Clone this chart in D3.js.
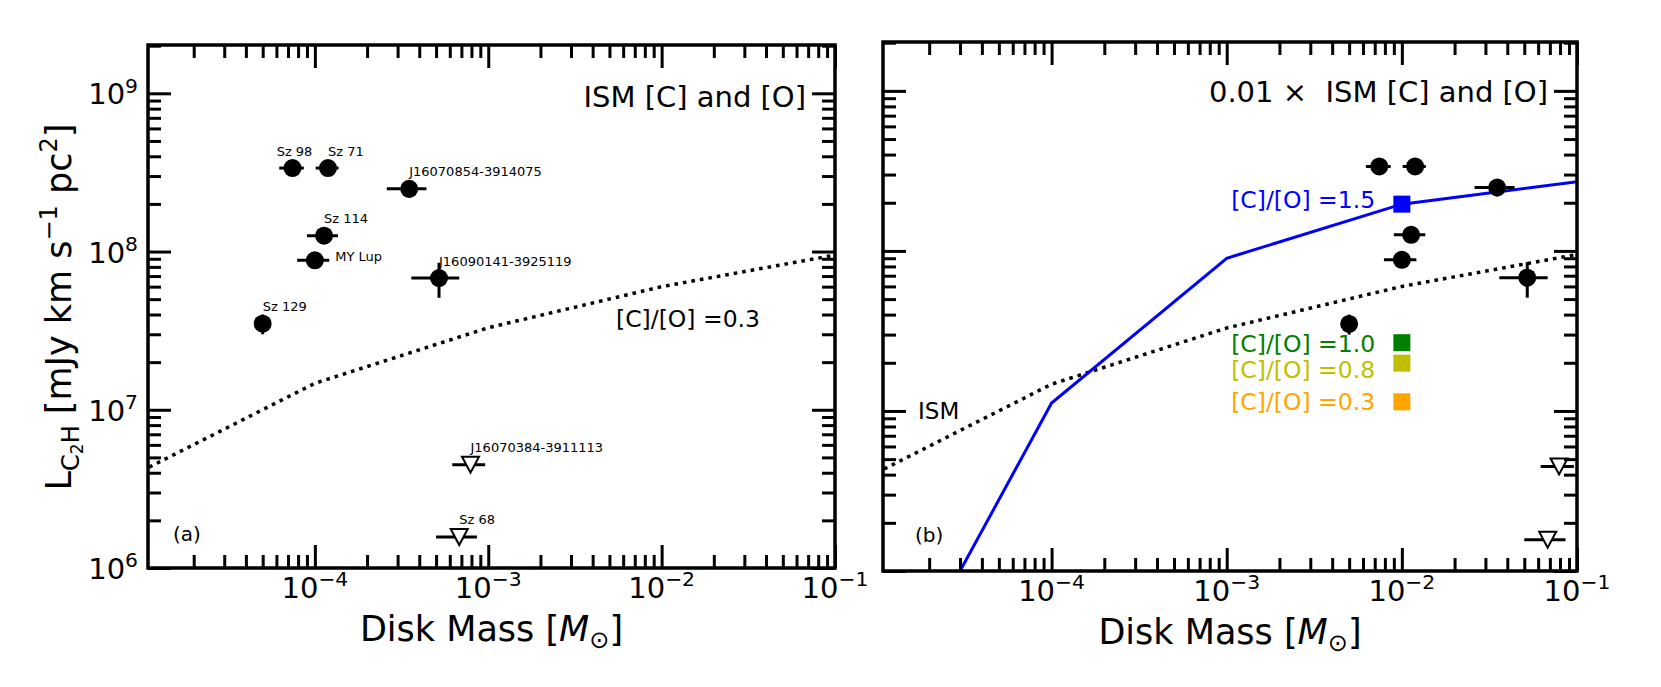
<!DOCTYPE html>
<html>
<head>
<meta charset="utf-8">
<script src="https://cdn.jsdelivr.net/npm/d3@7"></script>
<style>
  body { margin: 0; background: #fff; }
  text { font-family: "DejaVu Sans", sans-serif; fill: #000; }
</style>
</head>
<body>
<div class="canvas"></div>
<script>
// detected sources, panel (a) masses; panel (b) uses 100x these (0.01 x ISM abundances)
const sourceNames = ['Sz 98', 'Sz 71', 'J16070854-3914075', 'Sz 114', 'MY Lup', 'J16090141-3925119', 'Sz 129'];
const diskMass = [7.43e-5, 1.19e-4, 3.5e-4, 1.13e-4, 1.0e-4, 5.2e-4, 5.0e-5];
const diskMassErr = [1.2e-5, 1.8e-5, 0.9e-4, 2.3e-5, 2.1e-5, 1.6e-4, 0.4e-5];
const lumC2H = [3.37e8, 3.37e8, 2.49e8, 1.26e8, 8.8e7, 6.8e7, 3.5e7];
const lumC2HErr = [1.5e7, 1.5e7, 3.0e7, 1.0e7, 7e6, 1.7e7, 5e6];

// upper limits
const limitNames = ['J16070384-3911113', 'Sz 68'];
const limitMass = [7.9e-4, 6.8e-4];
const limitMassErr = [1.7e-4, 1.8e-4];
const limitLum = [4.5e6, 1.57e6];

// model curves
const modelMass = [1e-5, 1e-4, 1e-3, 1e-2, 1e-1];
const ismLum = [4.1e6, 1.47e7, 3.3e7, 6.0e7, 9.5e7];          // ISM [C],[O], C/O = 0.3
const depletedLum = [1.1e5, 1.12e7, 9.0e7, 1.96e8, 2.71e8];   // 0.01 x ISM, C/O = 1.5

// C/O markers at M = 0.01 in panel (b)
const ratioLabels = ['[C]/[O] =1.5', '[C]/[O] =1.0', '[C]/[O] =0.8', '[C]/[O] =0.3'];
const ratioColors = ['#0000ff', '#008000', '#bfbf00', '#ffa500'];
const ratioLum = [1.96e8, 2.67e7, 1.99e7, 1.14e7];
const ratioTextLum = [1.85e8, 2.35e7, 1.6e7, 1.01e7];
const ratioMass = 1e-2;

const xMajor = [1e-4, 1e-3, 1e-2, 1e-1];
const yMajor = [1e6, 1e7, 1e8, 1e9];
const xDomain = [1.09e-5, 0.1];
const yDomain = [1e6, 2.02e9];
const gasToDust = 100;

const svg = d3.select('.canvas')
    .append('svg')
    .attr('width', 1661)
    .attr('height', 687);

svg.append('rect').attr('width', 1661).attr('height', 687).attr('fill', '#fff');

const minorTicks = domain => {
    const out = [];
    const lo = Math.floor(Math.log10(domain[0])), hi = Math.ceil(Math.log10(domain[1]));
    for (let e = lo; e <= hi; e++) {
        for (let m = 2; m <= 9; m++) {
            const v = m * Math.pow(10, e);
            if (v > domain[0] && v < domain[1] * 0.995) out.push(v);
        }
    }
    return out;
};

const powLabel = (sel, exp, size) => {
    sel.append('tspan').text('10');
    sel.append('tspan')
        .attr('font-size', size * 0.7)
        .attr('dy', -size * 0.4)
        .text(exp < 0 ? '\u2212' + (-exp) : exp);
};

const drawPanel = (box, opts) => {
    const w = box.x1 - box.x0, h = box.y1 - box.y0;
    const g = svg.append('g').attr('transform', `translate(${box.x0}, ${box.y0})`);

    const x = d3.scaleLog().domain(xDomain).range([0, w]);
    const y = d3.scaleLog().domain(yDomain).range([h, 0]);

    const clipId = 'clip-' + opts.tag;
    g.append('clipPath').attr('id', clipId)
        .append('rect').attr('width', w).attr('height', h);
    const plot = g.append('g').attr('clip-path', `url(#${clipId})`);

    // ticks on all four sides, pointing inward
    const sides = [
        [d3.axisBottom, `translate(0, ${h})`, x, xMajor],
        [d3.axisTop, 'translate(0, 0)', x, xMajor],
        [d3.axisLeft, 'translate(0, 0)', y, yMajor],
        [d3.axisRight, `translate(${w}, 0)`, y, yMajor]
    ];
    sides.forEach(([make, tr, scale, major]) => {
        [[major, 23], [minorTicks(scale.domain()), 13]].forEach(([vals, len]) => {
            g.append('g')
                .attr('transform', tr)
                .attr('color', '#000')
                .call(make(scale).tickValues(vals).tickSize(-len).tickFormat(''))
                .call(a => a.select('.domain').remove())
                .selectAll('line').attr('stroke-width', 3);
        });
    });

    // x tick labels
    xMajor.forEach(v => {
        g.append('text')
            .attr('x', x(v))
            .attr('y', h + 30)
            .attr('text-anchor', 'middle')
            .attr('font-size', 29)
            .call(t => powLabel(t, Math.round(Math.log10(v)), 29));
    });

    if (opts.yLabels) {
        yMajor.forEach(v => {
            g.append('text')
                .attr('x', -10)
                .attr('y', y(v) + 11)
                .attr('text-anchor', 'end')
                .attr('font-size', 29)
                .call(t => powLabel(t, Math.round(Math.log10(v)), 29));
        });
    }

    // x axis title
    const xt = g.append('text')
        .attr('x', w / 2)
        .attr('y', h + 73)
        .attr('text-anchor', 'middle')
        .attr('font-size', 35);
    xt.append('tspan').text('Disk Mass [');
    xt.append('tspan').attr('font-style', 'italic').text('M');
    xt.append('tspan').attr('font-size', 24).attr('dy', 7).text('\u2299');
    xt.append('tspan').attr('dy', -7).text(']');

    // ISM model (dotted)
    const line = d3.line().x(d => x(d[0])).y(d => y(d[1]));
    plot.append('path')
        .datum(modelMass.map((m, i) => [m, ismLum[i]]))
        .attr('fill', 'none')
        .attr('stroke', '#000')
        .attr('stroke-width', 3.5)
        .attr('stroke-dasharray', '3.6,5')
        .attr('d', line);

    if (opts.depleted) {
        plot.append('path')
            .datum(modelMass.map((m, i) => [m, depletedLum[i]]))
            .attr('fill', 'none')
            .attr('stroke', '#0000ff')
            .attr('stroke-width', 3)
            .attr('d', line);
    }

    const f = opts.massFactor;
    const pts = sourceNames.map((name, i) => ({
        name, m: diskMass[i] * f, me: diskMassErr[i] * f, L: lumC2H[i], Le: lumC2HErr[i]
    }));
    const lims = limitNames.map((name, i) => ({
        name, m: limitMass[i] * f, me: limitMassErr[i] * f, L: limitLum[i]
    }));

    // error bars
    const bars = plot.append('g').attr('stroke', '#000').attr('stroke-width', 3);
    pts.concat(lims).forEach(d => {
        bars.append('line')
            .attr('x1', x(d.m - d.me)).attr('x2', x(d.m + d.me))
            .attr('y1', y(d.L)).attr('y2', y(d.L));
    });
    pts.forEach(d => {
        bars.append('line')
            .attr('x1', x(d.m)).attr('x2', x(d.m))
            .attr('y1', y(d.L - d.Le)).attr('y2', y(d.L + d.Le));
    });

    plot.selectAll('.src')
        .data(pts)
        .enter()
        .append('circle')
        .attr('class', 'src')
        .attr('cx', d => x(d.m))
        .attr('cy', d => y(d.L))
        .attr('r', 9)
        .attr('fill', '#000');

    plot.selectAll('.lim')
        .data(lims)
        .enter()
        .append('path')
        .attr('class', 'lim')
        .attr('transform', d => `translate(${x(d.m)}, ${y(d.L)})`)
        .attr('d', 'M-8.5,-8L8.5,-8L0,8Z')
        .attr('fill', '#fff')
        .attr('stroke', '#000')
        .attr('stroke-width', 2);

    // frame
    g.append('rect')
        .attr('width', w)
        .attr('height', h)
        .attr('fill', 'none')
        .attr('stroke', '#000')
        .attr('stroke-width', 3.5);

    return {g, x, y, w, h, pts, lims};
};

// panel (a)
const a = drawPanel({x0: 148, x1: 835, y0: 45, y1: 568}, {tag: 'a', yLabels: true, massFactor: 1});

const labelShift = {'Sz 98': [0.81, 1.2], 'MY Lup': [1.31, 0.985]};
a.pts.concat(a.lims).forEach(d => {
    const s = labelShift[d.name] || [1, 1.2];
    a.g.append('text')
        .attr('x', a.x(d.m * s[0]))
        .attr('y', a.y(d.L * s[1]))
        .attr('font-size', 13)
        .text(d.name);
});

a.g.append('text')
    .attr('x', a.w - 29).attr('y', 62)
    .attr('text-anchor', 'end')
    .attr('font-size', 29)
    .text('ISM [C] and [O]');

a.g.append('text')
    .attr('x', 468).attr('y', 282)
    .attr('font-size', 23.5)
    .text('[C]/[O] =0.3');

a.g.append('text')
    .attr('x', 25).attr('y', a.h - 27)
    .attr('font-size', 20)
    .text('(a)');

// panel (b)
const b = drawPanel({x0: 883, x1: 1577, y0: 42, y1: 571}, {tag: 'b', yLabels: false, massFactor: gasToDust, depleted: true});

b.g.append('text')
    .attr('x', b.w - 29).attr('y', 60)
    .attr('text-anchor', 'end')
    .attr('font-size', 29)
    .style('white-space', 'pre')
    .text('0.01 \u00d7  ISM [C] and [O]');

ratioLabels.forEach((label, i) => {
    b.g.append('rect')
        .attr('x', b.x(ratioMass) - 8.5)
        .attr('y', b.y(ratioLum[i]) - 8.5)
        .attr('width', 17)
        .attr('height', 17)
        .attr('fill', ratioColors[i]);
    b.g.append('text')
        .attr('x', b.x(1.06e-3))
        .attr('y', b.y(ratioTextLum[i]))
        .attr('font-size', 23.5)
        .style('fill', ratioColors[i])
        .text(label);
});

b.g.append('text')
    .attr('x', 35).attr('y', 377)
    .attr('font-size', 23)
    .text('ISM');

b.g.append('text')
    .attr('x', 32).attr('y', b.h - 29)
    .attr('font-size', 20)
    .text('(b)');

// y axis title
const yt = svg.append('text')
    .attr('transform', 'translate(71, 307) rotate(-90)')
    .attr('text-anchor', 'middle')
    .attr('font-size', 35);
yt.append('tspan').text('L');
yt.append('tspan').attr('font-size', 24).attr('dy', 8).text('C');
yt.append('tspan').attr('font-size', 17).attr('dy', 4).text('2');
yt.append('tspan').attr('font-size', 24).attr('dy', -4).text('H');
yt.append('tspan').attr('dy', -8).text(' [mJy km s');
yt.append('tspan').attr('font-size', 24).attr('dy', -14).text('\u22121');
yt.append('tspan').attr('dy', 14).text(' pc');
yt.append('tspan').attr('font-size', 24).attr('dy', -14).text('2');
yt.append('tspan').attr('dy', 14).text(']');
</script>
</body>
</html>
